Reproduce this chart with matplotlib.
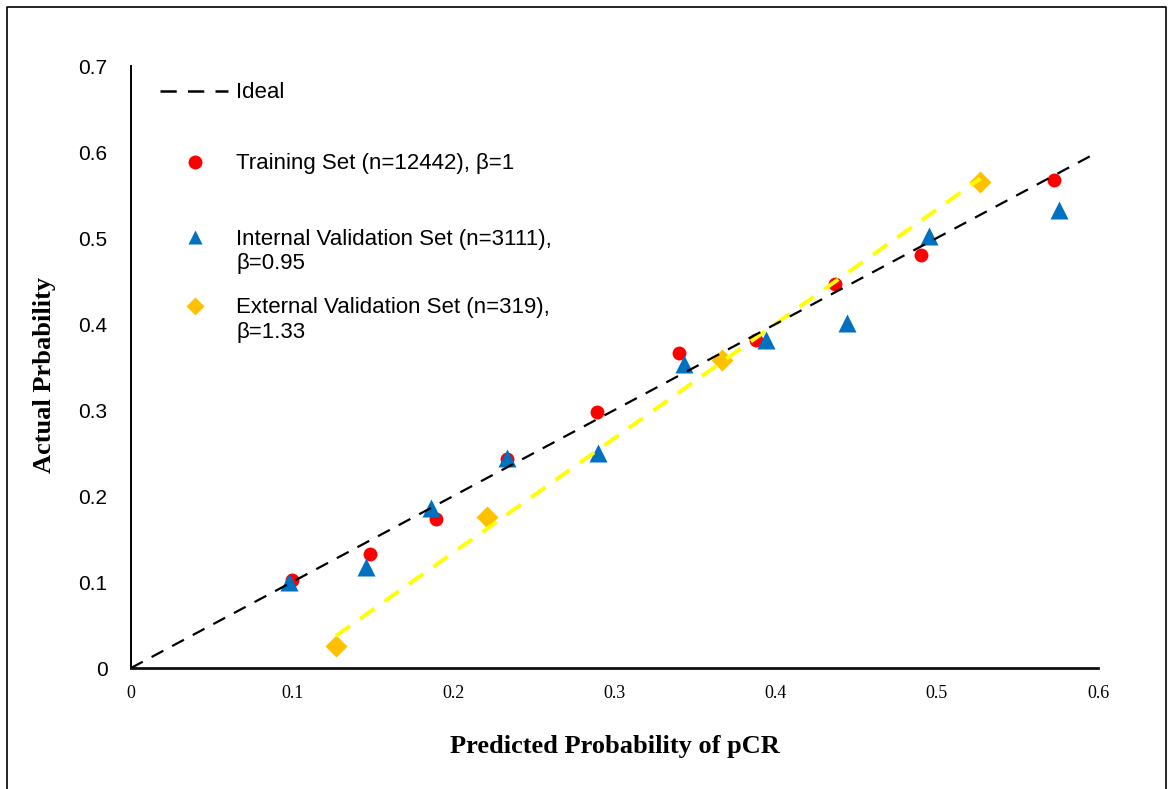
import numpy as np
import matplotlib
matplotlib.use("Agg")
import matplotlib.pyplot as plt
from matplotlib.lines import Line2D

# ---------------- data ----------------
ideal_x = [0.0, 0.6]
ideal_y = [0.0, 0.6]

train_x = [0.100, 0.148, 0.189, 0.233, 0.289, 0.340, 0.388, 0.437, 0.490, 0.573]
train_y = [0.102, 0.133, 0.173, 0.243, 0.298, 0.366, 0.381, 0.447, 0.480, 0.567]

internal_x = [0.098, 0.146, 0.186, 0.233, 0.290, 0.343, 0.394, 0.444, 0.495, 0.576]
internal_y = [0.100, 0.118, 0.186, 0.244, 0.250, 0.353, 0.381, 0.401, 0.502, 0.532]

external_x = [0.127, 0.221, 0.367, 0.527]
external_y = [0.026, 0.176, 0.358, 0.565]

x_ticks = [0, 0.1, 0.2, 0.3, 0.4, 0.5, 0.6]
x_tick_labels = ["0", "0.1", "0.2", "0.3", "0.4", "0.5", "0.6"]
y_ticks = [0, 0.1, 0.2, 0.3, 0.4, 0.5, 0.6, 0.7]
y_tick_labels = ["0", "0.1", "0.2", "0.3", "0.4", "0.5", "0.6", "0.7"]

legend_labels = ["Ideal",
                 "Training Set (n=12442), \u03b2=1",
                 "Internal Validation Set (n=3111),\n\u03b2=0.95",
                 "External Validation Set (n=319),\n\u03b2=1.33"]

# ---------------- style ----------------
RED = "#FF0000"
BLUE = "#0070C0"
GOLD = "#FFC000"
YELLOW = "#FFFF00"
W, H = 1172, 789

fig = plt.figure(figsize=(W / 100, H / 100), dpi=100)
ax = fig.add_axes([131 / W, 1 - 668 / H, (1098 - 131) / W, (668 - 66) / H])

ax.plot(train_x, train_y, linestyle="none", marker="o", ms=10,
        color=RED, mec="none", zorder=2)
ax.plot(internal_x, internal_y, linestyle="none", marker="^", ms=13.5,
        color=BLUE, mec="none", zorder=2)
ax.plot(external_x, external_y, linestyle="none", marker="D", ms=11.5,
        color=GOLD, mec="none", zorder=2)

# trend line of external set (linear fit over its range)
coef = np.polyfit(external_x, external_y, 1)
fx = np.array([min(external_x), max(external_x)])
ax.plot(fx, np.polyval(coef, fx), color=YELLOW, lw=2.8,
        dashes=(4.5, 3.2), zorder=3)

ax.plot(ideal_x, ideal_y, color="black", lw=1.6, dashes=(6, 4.5), zorder=4)

ax.set_xlim(0, 0.6)
ax.set_ylim(0, 0.7)
ax.set_xticks(x_ticks)
ax.set_xticklabels(x_tick_labels, family="Liberation Serif", fontsize=13)
ax.set_yticks(y_ticks)
ax.set_yticklabels(y_tick_labels, family="Liberation Sans", fontsize=15)
ax.tick_params(axis="both", length=0)
ax.tick_params(axis="x", pad=12)
ax.tick_params(axis="y", pad=17)
for s in ("top", "right"):
    ax.spines[s].set_visible(False)
ax.spines["left"].set_linewidth(1.4)
ax.spines["bottom"].set_linewidth(2.0)
ax.spines["bottom"].set_color("#111111")

ax.set_xlabel("Predicted Probability of pCR", family="Liberation Serif",
              fontweight="bold", fontsize=19)
ax.xaxis.set_label_coords(0.5, -0.112)
ax.set_ylabel("Actual Prbability", family="Liberation Serif",
              fontweight="bold", fontsize=19)
ax.yaxis.set_label_coords(-0.078, 0.487)

# ---------------- legend (Excel-like fixed pitch) ----------------
def fxp(px):
    return px / W


def fyp(py):
    return 1 - py / H


leg_rows = [91, 162, 237, 306]
leg_styles = [dict(kind="line"),
              dict(marker="o", color=RED, ms=10),
              dict(marker="^", color=BLUE, ms=10),
              dict(marker="D", color=GOLD, ms=9.5)]
for ypix, lab, st in zip(leg_rows, legend_labels, leg_styles):
    if st.get("kind") == "line":
        fig.add_artist(Line2D([fxp(160), fxp(228)], [fyp(ypix), fyp(ypix)],
                              color="black", lw=1.8, dashes=(6.5, 4.5)))
    else:
        fig.add_artist(Line2D([fxp(195)], [fyp(ypix)], linestyle="none",
                              marker=st["marker"], ms=st["ms"],
                              color=st["color"], mec="none"))
    fig.text(fxp(236), fyp(ypix - 8.5), lab, family="Liberation Sans",
             fontsize=16, va="top", ha="left", linespacing=1.24)

# outer frame
fig.add_artist(Line2D([fxp(7), fxp(7), fxp(1166), fxp(1166)],
                      [fyp(800), fyp(7), fyp(7), fyp(800)],
                      color="black", lw=1.2))

fig.savefig("out.png", dpi=100)
